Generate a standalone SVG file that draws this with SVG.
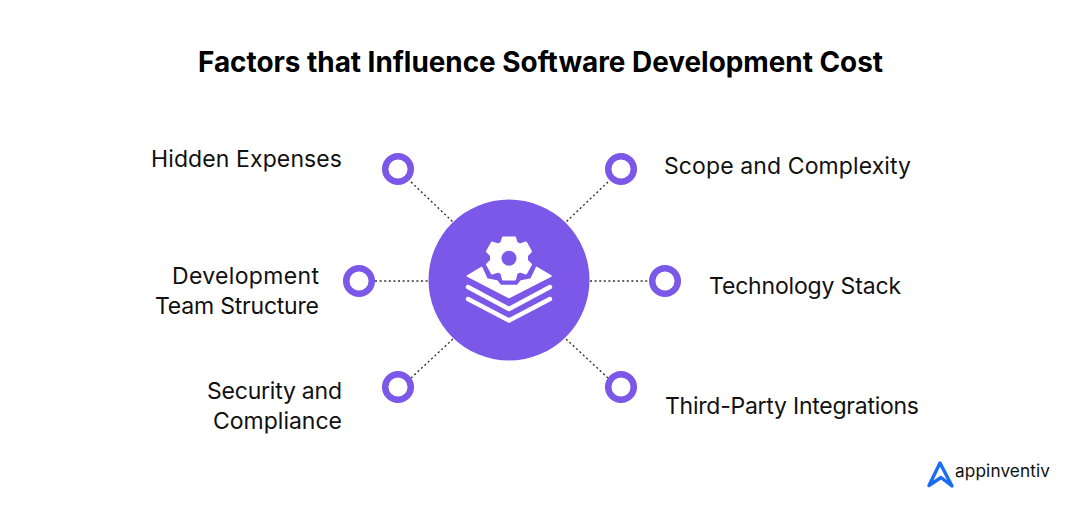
<svg xmlns="http://www.w3.org/2000/svg" width="1080" height="516" viewBox="0 0 1080 516">
<style>
.t{font-family:"Inter","Liberation Sans",sans-serif;font-size:23px;fill:#111;}
.title{font-family:"Inter","Liberation Sans",sans-serif;font-size:27.9px;font-weight:700;fill:#000;}
.ring{fill:#fff;stroke:#7c58e8;stroke-width:6.5;}
.c{stroke:#333;stroke-width:1.4;stroke-dasharray:2 2.6;fill:none;}
.l{fill:none;stroke:#fff;stroke-width:4.4;stroke-linecap:round;stroke-linejoin:round;}
</style>
<rect width="1080" height="516" fill="#fff"/>
<text id="title" class="title" x="198" y="72" textLength="685">Factors that Influence Software Development Cost</text>
<g id="connectors">
<path class="c" d="M411 182L453 222"/>
<path class="c" d="M608 182L566 222"/>
<path class="c" d="M375 281H429"/>
<path class="c" d="M590 281H649"/>
<path class="c" d="M411 378L453 339"/>
<path class="c" d="M608 378L566 339"/>
</g>
<g id="hub">
<circle cx="509" cy="280" r="80.5" fill="#7c58e8"/>
<path fill="#fff" stroke="#fff" stroke-width="1.500" stroke-linejoin="round" d="M481.700 267.500L467.500 276L509 297.500L551 276L536.500 267.500L531 279L521 281L517.500 285.500H500.500L497 281L487 279Z"/>
<path class="l" d="M468 287L509 309L550 287"/>
<path class="l" d="M468 299L509 320.500L550 299"/>
<path fill="#fff" fill-rule="evenodd" stroke="#fff" stroke-width="2" stroke-linejoin="round" d="M503 237.500H515L516.500 242.500L520 244.500L526 242.500L531 251.500L527 255.500V260.500L531 264.500L526 273.500L520 271.500L516.500 273.500L515 279.500H503L501.500 273.500L498 271.500L492 273.500L487 264.500L491 260.500V255.500L487 251.500L492 242.500L498 244.500L501.500 242.500Z"/>
<circle cx="509" cy="258.300" r="7.500" fill="#7c58e8"/>
</g>
<g id="n1"><circle class="ring" cx="398" cy="169" r="12.800"/><text class="t" x="151" y="167" textLength="191">Hidden Expenses</text></g>
<g id="n2"><circle class="ring" cx="621" cy="169" r="12.800"/><text class="t" x="664" y="174" textLength="247">Scope and Complexity</text></g>
<g id="n3"><circle class="ring" cx="359" cy="281" r="12.800"/><text class="t" x="172" y="284" textLength="147">Development</text><text class="t" x="155" y="314" textLength="164">Team Structure</text></g>
<g id="n4"><circle class="ring" cx="665" cy="281" r="12.800"/><text class="t" x="709" y="294" textLength="192">Technology Stack</text></g>
<g id="n5"><circle class="ring" cx="398" cy="387" r="12.800"/><text class="t" x="207" y="399" textLength="135">Security and</text><text class="t" x="213" y="429" textLength="129">Compliance</text></g>
<g id="n6"><circle class="ring" cx="621" cy="387" r="12.800"/><text class="t" x="665" y="414" textLength="254">Third-Party Integrations</text></g>
<g id="logo">
<path fill="none" stroke="#1a6cf5" stroke-width="3.400" stroke-linejoin="round" stroke-linecap="round" d="M929 485.500L940 463L952 486L941 477.500Z"/>
<text x="955" y="477" font-family="Inter,'Liberation Sans',sans-serif" font-size="17.200px" fill="#111" textLength="95">appinventiv</text>
</g>
</svg>
